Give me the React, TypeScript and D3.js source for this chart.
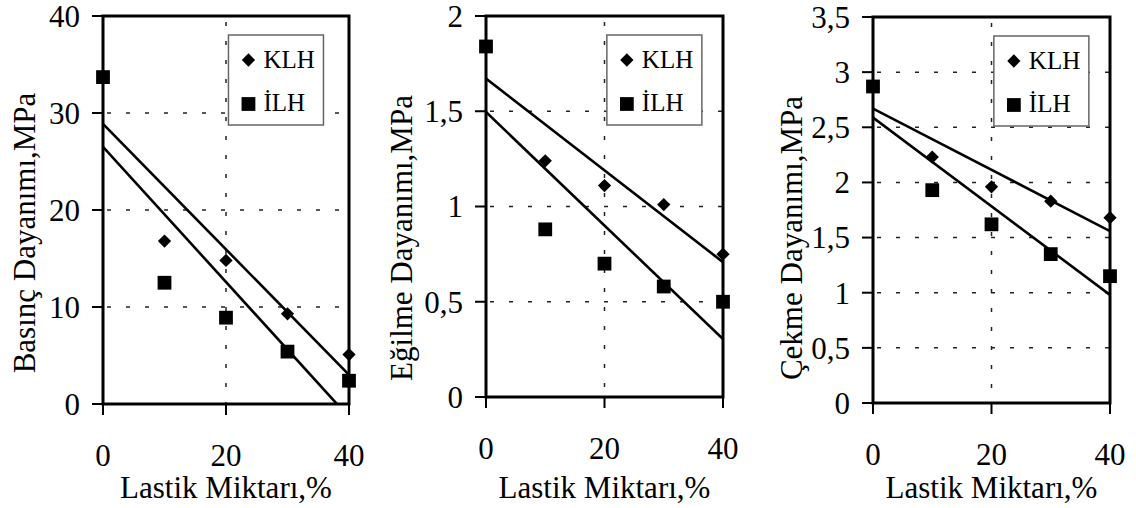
import React from "react";
import * as d3 from "d3";

const lastik = [0, 10, 20, 30, 40];
const xTicks = [0, 20, 40];
const seriesNames = ["KLH", "İLH"];

const basincKLH = [33.7, 16.8, 14.8, 9.3, 5.1];
const basincILH = [33.7, 12.5, 8.9, 5.4, 2.4];
const egilmeKLH = [1.84, 1.24, 1.11, 1.01, 0.75];
const egilmeILH = [1.84, 0.88, 0.7, 0.58, 0.5];
const cekmeKLH = [2.87, 2.23, 1.96, 1.83, 1.68];
const cekmeILH = [2.87, 1.93, 1.62, 1.35, 1.15];

const basincTicks = [0, 10, 20, 30, 40];
const egilmeTicks = [0, 0.5, 1, 1.5, 2];
const cekmeTicks = [0, 0.5, 1, 1.5, 2, 2.5, 3, 3.5];

const xTitle = "Lastik Miktarı,%";

const panels = [
  { id: "p1", title: "Basınç Dayanımı,MPa", klh: basincKLH, ilh: basincILH, ticks: basincTicks,
    box: { l: 103, r: 349, t: 16, b: 404 }, titleX: 35, titleY: 233 },
  { id: "p2", title: "Eğilme Dayanımı,MPa", klh: egilmeKLH, ilh: egilmeILH, ticks: egilmeTicks,
    box: { l: 486, r: 723, t: 16, b: 397 }, titleX: 412, titleY: 238 },
  { id: "p3", title: "Çekme Dayanımı,MPa", klh: cekmeKLH, ilh: cekmeILH, ticks: cekmeTicks,
    box: { l: 873, r: 1110, t: 17, b: 403 }, titleX: 802, titleY: 238 },
];

const FONT = "'Liberation Serif', 'Times New Roman', serif";

function regression(xs: number[], ys: number[]) {
  const mx = d3.mean(xs) as number;
  const my = d3.mean(ys) as number;
  const sxy = d3.sum(xs, (x, i) => (x - mx) * (ys[i] - my));
  const sxx = d3.sum(xs, (x) => (x - mx) * (x - mx));
  const slope = sxy / sxx;
  return { slope, intercept: my - slope * mx };
}

const fmt = (v: number) => String(v).replace(".", ",");

const diamond = d3.symbol().type(d3.symbolSquare).size(88)();
const square = d3.symbol().type(d3.symbolSquare).size(190)();

function Panel({ p }: { p: (typeof panels)[number] }) {
  const { l, r, t, b } = p.box;
  const x = d3.scaleLinear().domain([0, 40]).range([l, r]);
  const y = d3.scaleLinear().domain([0, p.ticks[p.ticks.length - 1]]).range([b, t]);
  const line = d3.line<number>().x((v) => x(v[0] as any)).y((v) => y(v[1] as any));
  const lines = [p.klh, p.ilh].map((ys) => {
    const { slope, intercept } = regression(lastik, ys);
    const pts: any = [0, 40].map((xv) => [xv, intercept + slope * xv]);
    return (line as any)(pts) as string;
  });
  const lg = { l: x(0) + (r - l) * 0.51, t: t + 19, w: 95, h: 90 };
  return (
    <g>
      <defs>
        <clipPath id={`clip-${p.id}`}>
          <rect x={l} y={t} width={r - l} height={b - t} />
        </clipPath>
      </defs>
      {/* grid */}
      {p.ticks.slice(1, -1).map((v) => (
        <line key={`g${v}`} x1={l} x2={r} y1={y(v)} y2={y(v)} stroke="#222" strokeWidth={1.5}
          strokeDasharray="4 15" strokeDashoffset={-4} />
      ))}
      <line x1={x(20)} x2={x(20)} y1={t} y2={b} stroke="#222" strokeWidth={1.5}
        strokeDasharray="4 15" strokeDashoffset={-6} />
      {/* regression lines */}
      <g clipPath={`url(#clip-${p.id})`}>
        {lines.map((d, i) => (
          <path key={i} d={d} fill="none" stroke="#000" strokeWidth={2.6} />
        ))}
      </g>
      {/* markers */}
      {p.klh.map((v, i) => (
        <path key={`k${i}`} d={diamond} transform={`translate(${x(lastik[i])},${y(v)}) rotate(45)`} fill="#000" />
      ))}
      {p.ilh.map((v, i) => (
        <path key={`s${i}`} d={square} transform={`translate(${x(lastik[i])},${y(v)})`} fill="#000" />
      ))}
      {/* frame */}
      <rect x={l} y={t} width={r - l} height={b - t} fill="none" stroke="#000" strokeWidth={3} />
      {/* ticks */}
      {p.ticks.map((v) => (
        <g key={`yt${v}`}>
          <line x1={l - 11} x2={l} y1={y(v)} y2={y(v)} stroke="#000" strokeWidth={2} />
          <text x={l - 23} y={y(v)} dy="0.35em" textAnchor="end" fontSize={31} fontFamily={FONT}>{fmt(v)}</text>
        </g>
      ))}
      {xTicks.map((v) => (
        <g key={`xt${v}`}>
          <line x1={x(v)} x2={x(v)} y1={b} y2={b + 11} stroke="#000" strokeWidth={2} />
          <text x={x(v)} y={b + 62} textAnchor="middle" fontSize={31} fontFamily={FONT}>{v}</text>
        </g>
      ))}
      {/* titles */}
      <text x={(l + r) / 2} y={498} textAnchor="middle" fontSize={31} fontFamily={FONT}>{xTitle}</text>
      <text transform={`translate(${p.titleX},${p.titleY}) rotate(-90)`} textAnchor="middle" fontSize={31} fontFamily={FONT}>{p.title}</text>
      {/* legend */}
      <rect x={lg.l} y={lg.t} width={lg.w} height={lg.h} fill="#fff" stroke="#666" strokeWidth={1.5} />
      <path d={diamond} transform={`translate(${lg.l + 20},${lg.t + 25}) rotate(45)`} fill="#000" />
      <path d={square} transform={`translate(${lg.l + 20},${lg.t + 69})`} fill="#000" />
      <text x={lg.l + 35} y={lg.t + 33} fontSize={25} fontFamily={FONT}>{seriesNames[0]}</text>
      <text x={lg.l + 35} y={lg.t + 76} fontSize={25} fontFamily={FONT}>{seriesNames[1]}</text>
    </g>
  );
}

export default function App() {
  return (
    <svg width={1136} height={508} style={{ position: "absolute", left: 0, top: 0, background: "#fff" }}>
      <rect width={1136} height={508} fill="#fff" />
      {panels.map((p) => (
        <Panel key={p.id} p={p} />
      ))}
    </svg>
  );
}
